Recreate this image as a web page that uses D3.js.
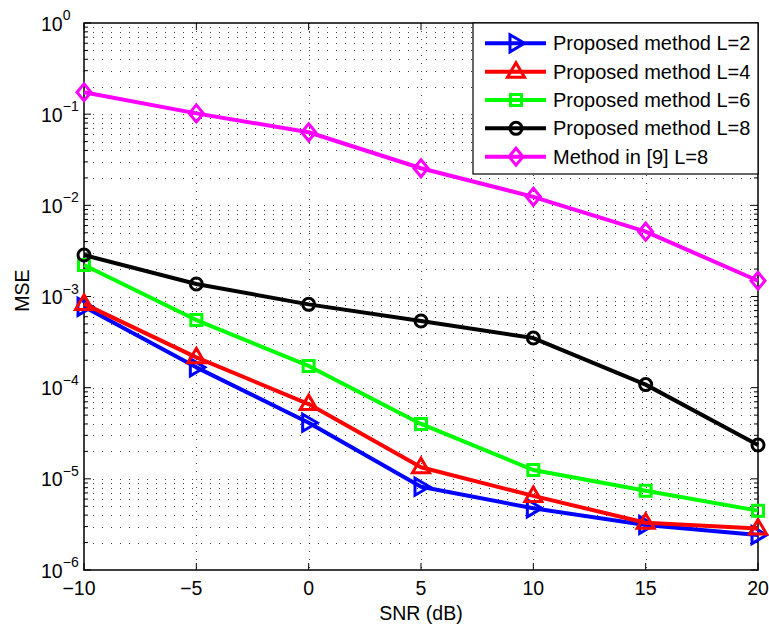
<!DOCTYPE html>
<html>
<head>
<meta charset="utf-8">
<script src="https://cdn.jsdelivr.net/npm/d3@7"></script>
<style>
  html, body { margin: 0; padding: 0; background: #fff; }
  svg { display: block; font-family: "Liberation Sans", Arial, Helvetica, sans-serif; }
</style>
</head>
<body>
<svg id="chart" width="769" height="626"></svg>
<script>
// ---- data ----
const snr = [-10, -5, 0, 5, 10, 15, 20];
const seriesNames = ["Proposed method L=2", "Proposed method L=4", "Proposed method L=6", "Proposed method L=8", "Method in [9] L=8"];
const mseL2 = [7.7e-4, 1.67e-4, 4.13e-5, 8.2e-6, 4.75e-6, 3.12e-6, 2.42e-6];
const mseL4 = [8.3e-4, 2.15e-4, 6.6e-5, 1.34e-5, 6.5e-6, 3.3e-6, 2.86e-6];
const mseL6 = [2.22e-3, 5.52e-4, 1.73e-4, 4.0e-5, 1.25e-5, 7.4e-6, 4.48e-6];
const mseL8 = [2.85e-3, 1.37e-3, 8.2e-4, 5.38e-4, 3.5e-4, 1.08e-4, 2.35e-5];
const mseRef = [0.174, 0.102, 0.0633, 0.0255, 0.0124, 0.00514, 0.00149];
const xTicks = [-10, -5, 0, 5, 10, 15, 20];
const yTickExponents = [0, -1, -2, -3, -4, -5, -6];

const seriesValues = [mseL2, mseL4, mseL6, mseL8, mseRef];
const seriesColors = ["#0000ff", "#ff0000", "#00ff00", "#000000", "#ff00ff"];
const seriesMarkers = ["tri-right", "tri-up", "square", "circle", "diamond"];

// ---- layout ----
const L = 84, R = 758, T = 23, B = 570;
const svg = d3.select("#chart");
const x = d3.scaleLinear().domain([-10, 20]).range([L, R]);
const y = d3.scaleLog().domain([1e-6, 1]).range([B, T]);

// ---- grid ----
const grid = svg.append("g");
const minorVals = [];
for (let e = -6; e < 0; e++) for (let m = 1; m <= 9; m++) minorVals.push(m * Math.pow(10, e));
minorVals.push(1);
grid.selectAll("line.h").data(minorVals.filter(v => v > 1e-6 && v < 1)).join("line")
  .attr("x1", L).attr("x2", R)
  .attr("y1", d => Math.round(y(d)) + 0.5).attr("y2", d => Math.round(y(d)) + 0.5)
  .attr("stroke", "#000").attr("stroke-width", 1).attr("stroke-opacity", 0.75)
  .attr("stroke-dasharray", "1,8");
grid.selectAll("line.v").data(xTicks.slice(1, -1)).join("line")
  .attr("x1", d => Math.round(x(d)) + 0.5).attr("x2", d => Math.round(x(d)) + 0.5)
  .attr("y1", T).attr("y2", B)
  .attr("stroke", "#000").attr("stroke-width", 1).attr("stroke-opacity", 0.75)
  .attr("stroke-dasharray", "1,7");

// ---- ticks (inward, all four sides) ----
const ticks = svg.append("g").attr("stroke", "#000").attr("stroke-width", 1);
xTicks.forEach(t => {
  const px = x(t);
  ticks.append("line").attr("x1", px).attr("x2", px).attr("y1", B).attr("y2", B - 7);
  ticks.append("line").attr("x1", px).attr("x2", px).attr("y1", T).attr("y2", T + 7);
});
minorVals.forEach(v => {
  const py = y(v);
  const major = Math.abs(Math.log10(v) - Math.round(Math.log10(v))) < 1e-9;
  const len = major ? 7 : 4;
  ticks.append("line").attr("x1", L).attr("x2", L + len).attr("y1", py).attr("y2", py);
  ticks.append("line").attr("x1", R).attr("x2", R - len).attr("y1", py).attr("y2", py);
});

// ---- axes box ----
svg.append("rect").attr("x", L).attr("y", T).attr("width", R - L).attr("height", B - T)
  .attr("fill", "none").attr("stroke", "#000").attr("stroke-width", 1.5);

// ---- tick labels ----
const xl = svg.append("g").attr("font-size", 19.5).attr("text-anchor", "middle").attr("fill", "#000");
xTicks.forEach(t => {
  xl.append("text").attr("x", x(t) + (t < 0 ? -5 : 0)).attr("y", 595)
    .text(t < 0 ? "\u2212" + Math.abs(t) : String(t));
});
const yl = svg.append("g").attr("fill", "#000");
yTickExponents.forEach(e => {
  const py = y(Math.pow(10, e));
  const txt = yl.append("text").attr("x", 41).attr("y", py + 7.5).attr("font-size", 19.5);
  txt.append("tspan").text("10");
  txt.append("tspan").attr("dy", -10.5).attr("font-size", 14).text(e < 0 ? "\u2212" + Math.abs(e) : String(e));
});

// ---- axis titles ----
svg.append("text").attr("x", (L + R) / 2).attr("y", 620).attr("text-anchor", "middle")
  .attr("font-size", 19.5).text("SNR (dB)");
svg.append("text").attr("transform", `translate(29,${(T + B) / 2 - 6}) rotate(-90)`)
  .attr("text-anchor", "middle").attr("font-size", 19.5).text("MSE");

// ---- markers ----
function markerPath(type) {
  switch (type) {
    case "tri-right": return "M-6,-8.5 L8.5,0 L-6,8.5 Z";
    case "tri-up": return "M0,-9 L8.5,5.5 L-8.5,5.5 Z";
    case "square": return "M-5.5,-5.5 H5.5 V5.5 H-5.5 Z";
    case "diamond": return "M0,-8.5 L7,0 L0,8.5 L-7,0 Z";
    default: return null;
  }
}
function drawMarker(g, type, cx, cy, color) {
  if (type === "circle") {
    g.append("circle").attr("cx", cx).attr("cy", cy).attr("r", 6)
      .attr("fill", "none").attr("stroke", color).attr("stroke-width", 3);
  } else {
    g.append("path").attr("d", markerPath(type)).attr("transform", `translate(${cx},${cy})`)
      .attr("fill", "none").attr("stroke", color).attr("stroke-width", 3).attr("stroke-linejoin", "miter");
  }
}

// ---- series ----
const line = d3.line().x(d => x(d[0])).y(d => y(d[1]));
const plot = svg.append("g");
seriesValues.forEach((vals, i) => {
  const pts = snr.map((s, j) => [s, vals[j]]);
  const g = plot.append("g");
  g.append("path").datum(pts).attr("d", line).attr("fill", "none")
    .attr("stroke", seriesColors[i]).attr("stroke-width", 4).attr("stroke-linejoin", "round");
  pts.forEach(p => drawMarker(g, seriesMarkers[i], x(p[0]), y(p[1]), seriesColors[i]));
});

// ---- legend ----
const lg = svg.append("g");
lg.append("rect").attr("x", 473).attr("y", T).attr("width", R - 473).attr("height", 151)
  .attr("fill", "#fff").attr("stroke", "#000").attr("stroke-width", 1.2);
seriesNames.forEach((name, i) => {
  const cy = 43.3 + i * 28.35;
  lg.append("line").attr("x1", 485).attr("x2", 546).attr("y1", cy).attr("y2", cy)
    .attr("stroke", seriesColors[i]).attr("stroke-width", 4);
  drawMarker(lg, seriesMarkers[i], 516, cy, seriesColors[i]);
  lg.append("text").attr("x", 553).attr("y", cy + 7).attr("font-size", 20).attr("fill", "#000").text(name);
});
</script>
</body>
</html>
